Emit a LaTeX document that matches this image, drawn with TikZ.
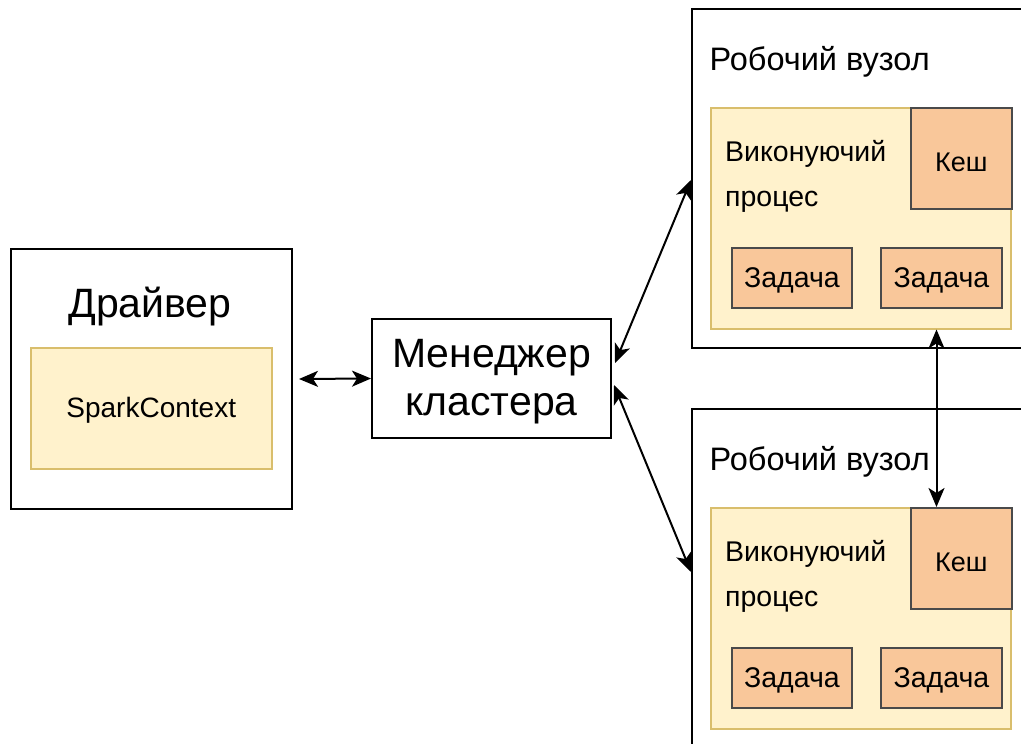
\documentclass[tikz,border=0pt]{standalone}
\usepackage{fontspec}
\setmainfont{Liberation Sans}
\usetikzlibrary{arrows.meta,calc}

\definecolor{execfill}{HTML}{FFF2CC}
\definecolor{execline}{HTML}{D9BE6C}
\definecolor{peach}{HTML}{F9C79A}
\definecolor{peachline}{HTML}{4A4A4A}

\tikzset{
  outerbox/.style={draw=black, fill=white, line width=2pt, inner sep=0pt, anchor=north west},
  execbox/.style={draw=execline, fill=execfill, line width=1.5pt, inner sep=0pt, anchor=north west},
  peachbox/.style={draw=peachline, fill=peach, line width=1.8pt, inner sep=0pt, anchor=north west},
  bigtext/.style={font=\fontsize{41}{49}\selectfont},
  midtext/.style={font=\fontsize{32.5}{39}\selectfont},
  smalltext/.style={font=\fontsize{28.5}{34}\selectfont},
  link/.style={line width=2pt, {Stealth[length=19pt,width=16pt,inset=5pt]}-{Stealth[length=19pt,width=16pt,inset=5pt]}},
}

\begin{document}
\begin{tikzpicture}[x=1pt, y=-1pt]
\useasboundingbox (0,0) rectangle (1021,744);
\clip (0,0) rectangle (1021,744);

% driver
\node[outerbox, minimum width=281, minimum height=260] (drv) at (10,248) {};
\node[bigtext] (drvlabel) at (150,307) {Драйвер};
\node[execbox, minimum width=241, minimum height=121] (sc) at (30,347) {};
\node[font=\fontsize{28}{34}\selectfont] (sctext) at ($(sc.center)+(0,2)$) {SparkContext};

% cluster manager
\node[outerbox, minimum width=239, minimum height=119] (mgr) at (371,318) {};
\node[align=center, font=\fontsize{41}{48}\selectfont] (mgrtext) at ($(mgr.center)+(0,3)$) {Менеджер\\кластера};

% worker nodes (both run past the right edge, the lower one past the bottom)
\foreach \n/\y in {1/8, 2/408} {
  \node[outerbox, minimum width=400, minimum height=339] (w\n) at (691,\y) {};
  \node[midtext, anchor=west] (wl\n) at (706,\y+54) {Робочий вузол};
  \node[execbox, minimum width=300, minimum height=221] (ex\n) at (710,\y+99) {};
  \node[peachbox, minimum width=101, minimum height=101] (k\n) at (910,\y+99) {};
  \node[font=\fontsize{27}{32}\selectfont] (kt\n) at ($(k\n.center)+(0,4)$) {Кеш};
  \node[anchor=north west, align=left, inner sep=0pt,
        font=\fontsize{28.5}{45}\selectfont] (el\n) at (725,\y+132) {Виконуючий\\процес};
  \node[peachbox, minimum width=120, minimum height=60] (ta\n) at (731,\y+239) {};
  \node[smalltext] (tat\n) at ($(ta\n.center)+(0,2)$) {Задача};
  \node[peachbox, minimum width=121, minimum height=60] (tb\n) at (880,\y+239) {};
  \node[smalltext] (tbt\n) at ($(tb\n.center)+(0,2)$) {Задача};
}

% connections
\draw[link] ($(drv.east)+(6,0)$) -- (mgr.west);
\draw[link] ($(mgr.east)+(3,-15.5)$) -- ($(w1.north west)+(0,172)$);
\draw[link] ($(mgr.east)+(2,6.5)$) -- ($(w2.north west)+(0,164)$);
\coordinate (kin) at ($(k2.north west)+(26.5,0)$);
\draw[link] (ex1.south -| kin) -- (kin);
\end{tikzpicture}
\end{document}
